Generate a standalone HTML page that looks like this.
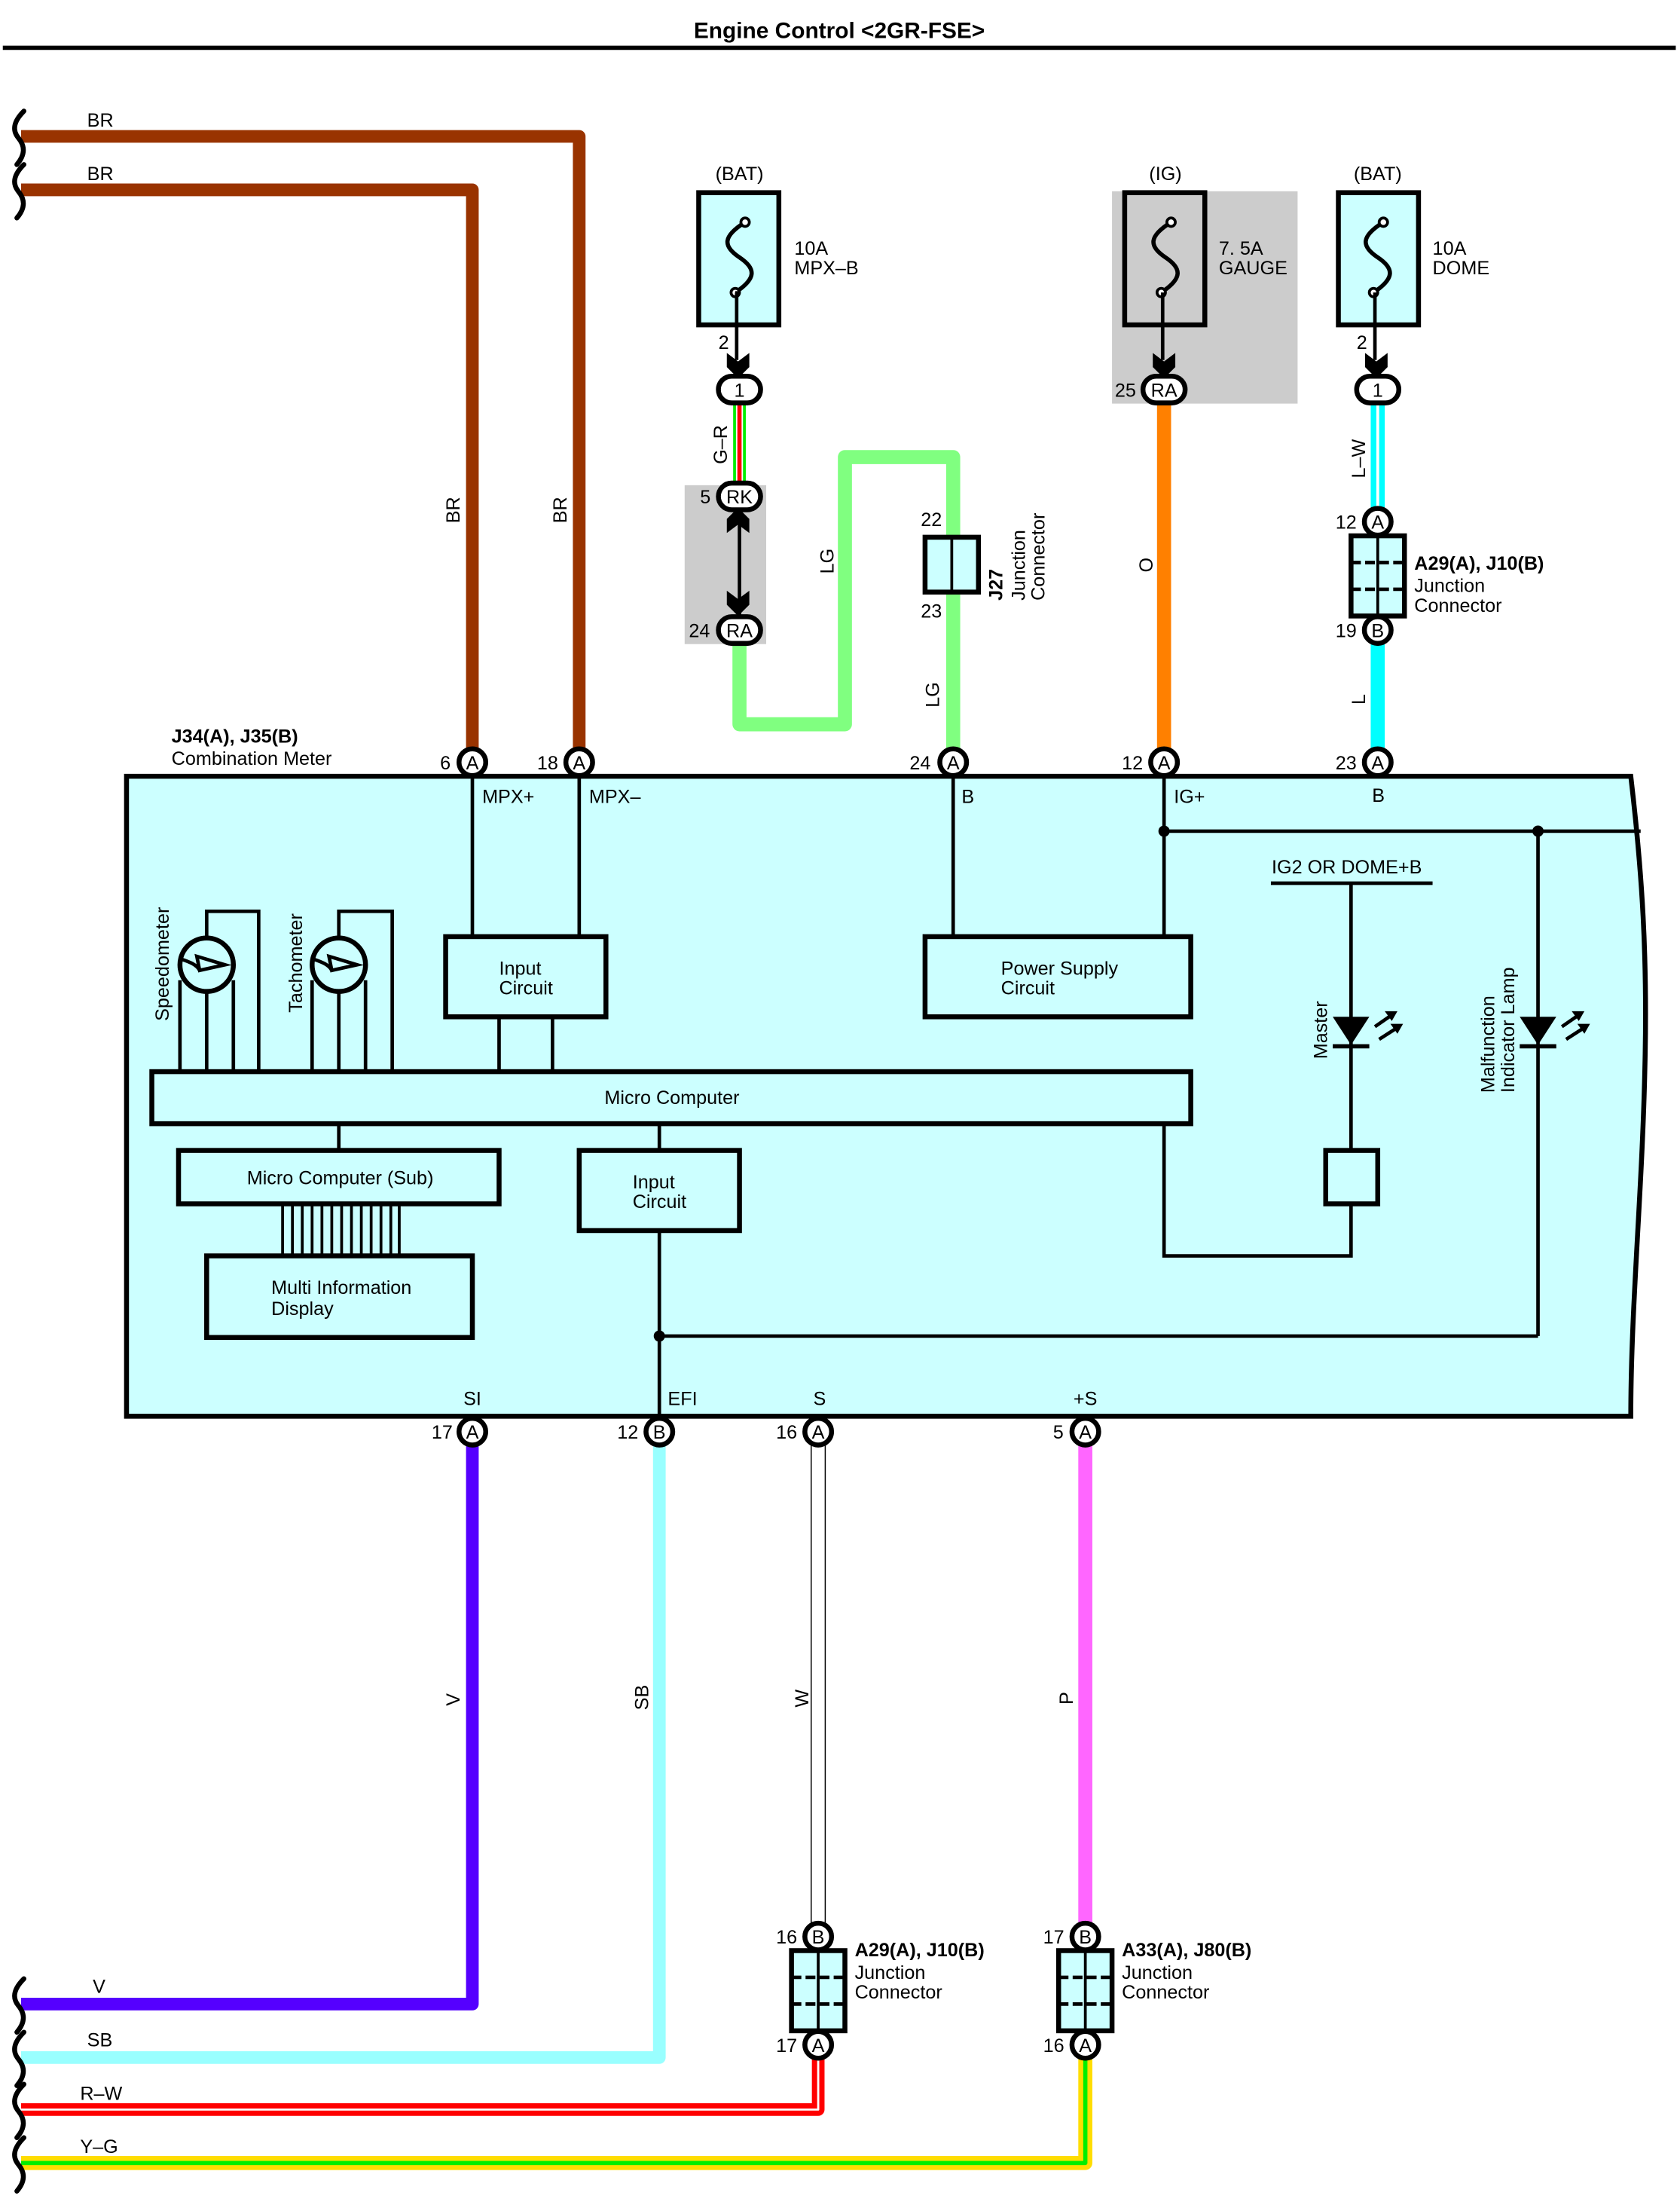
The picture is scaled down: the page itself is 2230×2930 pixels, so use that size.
<!DOCTYPE html>
<html><head><meta charset="utf-8"><style>
html,body{margin:0;padding:0;background:#fff;}
svg{display:block;}
text{font-family:"Liberation Sans",sans-serif;font-size:13.5px;fill:#000;}
.b{font-weight:bold;}
</style></head><body>
<svg width="2230" height="2930" viewBox="0 0 1195 1570" preserveAspectRatio="none" xmlns="http://www.w3.org/2000/svg">
<defs>
<g id="pin"><circle cx="0" cy="0" r="9.5" fill="#fff" stroke="#000" stroke-width="3.5"/></g>
<g id="ovl"><rect x="-15" y="-9.5" width="30" height="19" rx="9.5" fill="#fff" stroke="#000" stroke-width="3.5"/></g>
<g id="fuse"><path d="M4,-25 C-12,-15 -12,-8 0,0 C12,8 12,15 -3,25" fill="none" stroke="#000" stroke-width="3"/><circle cx="4" cy="-25" r="3" fill="#fff" stroke="#000" stroke-width="2"/><circle cx="-3" cy="25" r="3" fill="#fff" stroke="#000" stroke-width="2"/></g>
<g id="arrd"><path d="M-8,-10 L0,-4 L8,-10 L8,0 L0,8 L-8,0 Z" fill="#000"/></g>
<g id="led"><polygon points="-13,-10 13,-10 0,10" fill="#000"/><line x1="-13" y1="11" x2="13" y2="11" stroke="#000" stroke-width="3"/>
<line x1="17" y1="-3" x2="30" y2="-12" stroke="#000" stroke-width="2.5"/><polygon points="33,-14 24,-14 29,-7" fill="#000"/>
<line x1="20" y1="6" x2="34" y2="-3" stroke="#000" stroke-width="2.5"/><polygon points="37,-5 28,-5 33,2" fill="#000"/></g>
<g id="jc"><rect x="-19" y="0" width="38" height="57" fill="#ccffff" stroke="#000" stroke-width="3.5"/><line x1="0" y1="0" x2="0" y2="57" stroke="#000" stroke-width="2"/><line x1="-19" y1="19" x2="19" y2="19" stroke="#000" stroke-width="2.5" stroke-dasharray="7 3"/><line x1="-19" y1="38" x2="19" y2="38" stroke="#000" stroke-width="2.5" stroke-dasharray="7 3"/></g>
<g id="sq"><path d="M17,-18 C9,-10 9,-4 13,1 C18,7 18,13 12,20" fill="none" stroke="#000" stroke-width="3.5" stroke-linecap="round"/></g>
</defs>

<text x="597" y="27" text-anchor="middle" class="b" style="font-size:16px">Engine Control &lt;2GR-FSE&gt;</text>
<line x1="2" y1="34" x2="1192" y2="34" stroke="#000" stroke-width="3"/>

<!-- BR wires -->
<path d="M15,97 H412 V541" fill="none" stroke="#993300" stroke-width="9" stroke-linejoin="round"/>
<path d="M15,135 H336 V541" fill="none" stroke="#993300" stroke-width="9" stroke-linejoin="round"/>
<use href="#sq" x="0" y="97"/><use href="#sq" x="0" y="135"/>
<text x="62" y="90">BR</text><text x="62" y="128">BR</text>
<text transform="translate(327,372) rotate(-90)">BR</text>
<text transform="translate(403,372) rotate(-90)">BR</text>

<!-- MPX-B fuse -->
<text x="526" y="128" text-anchor="middle">(BAT)</text>
<rect x="497" y="137" width="57" height="94" fill="#ccffff" stroke="#000" stroke-width="3.5"/>
<use href="#fuse" x="526" y="183"/>
<text x="565" y="181">10A</text><text x="565" y="195">MPX–B</text>
<line x1="523" y1="208" x2="526" y2="208" stroke="#000" stroke-width="2"/>
<line x1="524" y1="208" x2="524" y2="256" stroke="#000" stroke-width="2.5"/>
<use href="#arrd" x="525" y="261"/>
<text x="511" y="248">2</text>
<line x1="526" y1="286" x2="526" y2="345" stroke="#00ee00" stroke-width="9"/>
<line x1="526" y1="286" x2="526" y2="345" stroke="#fff" stroke-width="5"/>
<line x1="526" y1="286" x2="526" y2="345" stroke="#ff0000" stroke-width="3"/>
<use href="#ovl" x="526" y="277"/><text x="526" y="282" text-anchor="middle">1</text>
<text transform="translate(517,330) rotate(-90)">G–R</text>
<rect x="487" y="345" width="58" height="113" fill="#cccccc"/>
<line x1="526" y1="362" x2="526" y2="438" stroke="#000" stroke-width="2.5"/>
<g transform="translate(525,369) rotate(180)"><use href="#arrd"/></g>
<use href="#arrd" x="525" y="430"/>
<!-- LG wire -->
<path d="M526,456 V515 H601 V325 H678 V541" fill="none" stroke="#80ff80" stroke-width="10" stroke-linejoin="round"/>
<use href="#ovl" x="526" y="353"/><text x="526" y="358" text-anchor="middle">RK</text><text x="498" y="358">5</text>
<use href="#ovl" x="526" y="448"/><text x="526" y="453" text-anchor="middle">RA</text><text x="490" y="453">24</text>
<text transform="translate(593,408) rotate(-90)">LG</text>
<text transform="translate(668,503) rotate(-90)">LG</text>
<rect x="658" y="382" width="38" height="39" fill="#ccffff" stroke="#000" stroke-width="3.5"/>
<line x1="677" y1="382" x2="677" y2="421" stroke="#000" stroke-width="2"/>
<text x="655" y="374">22</text><text x="655" y="439">23</text>
<text transform="translate(713,427) rotate(-90)" class="b">J27</text>
<text transform="translate(729,427) rotate(-90)">Junction</text>
<text transform="translate(743,427) rotate(-90)">Connector</text>

<!-- GAUGE fuse -->
<text x="829" y="128" text-anchor="middle">(IG)</text>
<rect x="791" y="136" width="132" height="151" fill="#cccccc"/>
<rect x="800" y="137" width="57" height="94" fill="#cccccc" stroke="#000" stroke-width="3.5"/>
<use href="#fuse" x="829" y="183"/>
<text x="867" y="181">7. 5A</text><text x="867" y="195">GAUGE</text>
<line x1="827" y1="208" x2="827" y2="256" stroke="#000" stroke-width="2.5"/>
<use href="#arrd" x="828" y="261"/>
<line x1="828" y1="287" x2="828" y2="541" stroke="#ff8000" stroke-width="10"/>
<use href="#ovl" x="828" y="277"/><text x="828" y="282" text-anchor="middle">RA</text><text x="793" y="282">25</text>
<text transform="translate(820,407) rotate(-90)">O</text>

<!-- DOME fuse -->
<text x="980" y="128" text-anchor="middle">(BAT)</text>
<rect x="952" y="137" width="57" height="94" fill="#ccffff" stroke="#000" stroke-width="3.5"/>
<use href="#fuse" x="980" y="183"/>
<text x="1019" y="181">10A</text><text x="1019" y="195">DOME</text>
<line x1="978" y1="208" x2="978" y2="256" stroke="#000" stroke-width="2.5"/>
<use href="#arrd" x="979" y="261"/>
<text x="965" y="248">2</text>
<line x1="980" y1="287" x2="980" y2="362" stroke="#00ffff" stroke-width="10"/>
<line x1="980" y1="287" x2="980" y2="362" stroke="#fff" stroke-width="2"/>
<use href="#ovl" x="980" y="277"/><text x="980" y="282" text-anchor="middle">1</text>
<text transform="translate(971,340) rotate(-90)">L–W</text>
<line x1="980" y1="455" x2="980" y2="541" stroke="#00ffff" stroke-width="10"/>
<text transform="translate(971,501) rotate(-90)">L</text>
<use href="#jc" x="980" y="381"/>
<use href="#pin" x="980" y="371"/><text x="980" y="376" text-anchor="middle">A</text><text x="950" y="376">12</text>
<use href="#pin" x="980" y="448"/><text x="980" y="453" text-anchor="middle">B</text><text x="950" y="453">19</text>
<text x="1006" y="405" class="b">A29(A), J10(B)</text>
<text x="1006" y="421">Junction</text><text x="1006" y="435">Connector</text>

<!-- main box -->
<text x="122" y="528" class="b">J34(A), J35(B)</text>
<text x="122" y="544">Combination Meter</text>
<path d="M90,552 H1160 C1168,620 1172,680 1170,760 C1168,850 1160,930 1160,1007 H90 Z" fill="#ccffff" stroke="#000" stroke-width="3.5"/>
<g fill="none" stroke="#000" stroke-width="2.5">
<line x1="336" y1="552" x2="336" y2="666"/><line x1="412" y1="552" x2="412" y2="666"/>
<line x1="355" y1="723" x2="355" y2="762"/><line x1="393" y1="723" x2="393" y2="762"/>
<line x1="678" y1="552" x2="678" y2="666"/><line x1="828" y1="552" x2="828" y2="666"/>
<line x1="828" y1="591" x2="1167" y2="591"/>
<line x1="904" y1="628" x2="1019" y2="628"/>
<line x1="961" y1="628" x2="961" y2="818"/>
<path d="M961,856 V893 H828 V799"/>
<line x1="1094" y1="591" x2="1094" y2="950"/>
<path d="M469,875 V1007"/><path d="M469,950 H1094"/>
<line x1="241" y1="799" x2="241" y2="818"/><line x1="469" y1="799" x2="469" y2="818"/>
<!-- gauges -->
<path d="M147,667 V648 H184 V762"/>
<path d="M128,697 L128,762 M147,705 V762 M166,697 V762"/>
<path d="M241,667 V648 H279 V762"/>
<path d="M222,697 L222,762 M241,705 V762 M260,697 V762"/>
</g>
<circle cx="828" cy="591" r="4" fill="#000"/><circle cx="1094" cy="591" r="4" fill="#000"/><circle cx="469" cy="950" r="4" fill="#000"/>
<g fill="#ccffff" stroke="#000" stroke-width="3.5">
<circle cx="147" cy="686" r="19"/><circle cx="241" cy="686" r="19"/>
</g>
<g fill="none" stroke="#000" stroke-width="2.5">
<path d="M129,682 C135,684 140,686 142,690 M142,690 L160,686 L140,680 Z"/>
<path d="M223,682 C229,684 234,686 236,690 M236,690 L254,686 L234,680 Z"/>
</g>
<text transform="translate(120,726) rotate(-90)">Speedometer</text>
<text transform="translate(215,720) rotate(-90)">Tachometer</text>
<g fill="none" stroke="#000" stroke-width="3.5">
<rect x="317" y="666" width="114" height="57"/>
<rect x="658" y="666" width="189" height="57"/>
<rect x="108" y="762" width="739" height="37"/>
<rect x="127" y="818" width="228" height="38"/>
<rect x="147" y="893" width="189" height="58"/>
<rect x="412" y="818" width="114" height="57"/>
<rect x="943" y="818" width="37" height="38"/>
</g>
<g stroke="#000" stroke-width="2">
<line x1="201" y1="856" x2="201" y2="893"/><line x1="208" y1="856" x2="208" y2="893"/><line x1="215" y1="856" x2="215" y2="893"/><line x1="222" y1="856" x2="222" y2="893"/><line x1="229" y1="856" x2="229" y2="893"/><line x1="236" y1="856" x2="236" y2="893"/><line x1="243" y1="856" x2="243" y2="893"/><line x1="250" y1="856" x2="250" y2="893"/><line x1="257" y1="856" x2="257" y2="893"/><line x1="264" y1="856" x2="264" y2="893"/><line x1="271" y1="856" x2="271" y2="893"/><line x1="278" y1="856" x2="278" y2="893"/><line x1="284" y1="856" x2="284" y2="893"/>
</g>
<use href="#led" x="961" y="733"/><use href="#led" x="1094" y="733"/>
<text x="355" y="693">Input</text><text x="355" y="707">Circuit</text>
<text x="712" y="693">Power Supply</text><text x="712" y="707">Circuit</text>
<text x="478" y="785" text-anchor="middle">Micro Computer</text>
<text x="242" y="842" text-anchor="middle">Micro Computer (Sub)</text>
<text x="193" y="920">Multi Information</text><text x="193" y="935">Display</text>
<text x="450" y="845">Input</text><text x="450" y="859">Circuit</text>
<text x="958" y="621" text-anchor="middle">IG2 OR DOME+B</text>
<text transform="translate(944,753) rotate(-90)">Master</text>
<text transform="translate(1063,777) rotate(-90)">Malfunction</text>
<text transform="translate(1077,777) rotate(-90)">Indicator Lamp</text>
<text x="343" y="571">MPX+</text><text x="419" y="571">MPX–</text>
<text x="684" y="571">B</text><text x="835" y="571">IG+</text><text x="976" y="570">B</text>
<text x="336" y="999" text-anchor="middle">SI</text><text x="475" y="999">EFI</text>
<text x="583" y="999" text-anchor="middle">S</text><text x="772" y="999" text-anchor="middle">+S</text>

<!-- top pins -->
<use href="#pin" x="336" y="542"/><text x="336" y="547" text-anchor="middle">A</text><text x="313" y="547">6</text>
<use href="#pin" x="412" y="542"/><text x="412" y="547" text-anchor="middle">A</text><text x="382" y="547">18</text>
<use href="#pin" x="678" y="542"/><text x="678" y="547" text-anchor="middle">A</text><text x="647" y="547">24</text>
<use href="#pin" x="828" y="542"/><text x="828" y="547" text-anchor="middle">A</text><text x="798" y="547">12</text>
<use href="#pin" x="980" y="542"/><text x="980" y="547" text-anchor="middle">A</text><text x="950" y="547">23</text>

<!-- bottom wires -->
<path d="M336,1027 V1425 H15" fill="none" stroke="#5500ff" stroke-width="9" stroke-linejoin="round"/>
<path d="M469,1027 V1463 H15" fill="none" stroke="#99ffff" stroke-width="9" stroke-linejoin="round"/>
<line x1="577" y1="1027" x2="577" y2="1369" stroke="#000" stroke-width="0.8"/>
<line x1="587" y1="1027" x2="587" y2="1369" stroke="#000" stroke-width="0.8"/>
<line x1="772" y1="1027" x2="772" y2="1369" stroke="#ff66ff" stroke-width="10"/>
<path d="M582,1462 V1500 H15" fill="none" stroke="#ff0000" stroke-width="9" stroke-linejoin="round"/>
<path d="M582,1462 V1500 H15" fill="none" stroke="#fff" stroke-width="1.5" stroke-linejoin="round"/>
<path d="M772,1462 V1538 H15" fill="none" stroke="#ffdd00" stroke-width="10" stroke-linejoin="round"/>
<path d="M772,1462 V1538 H15" fill="none" stroke="#00ee00" stroke-width="3" stroke-linejoin="round"/>
<use href="#sq" x="0" y="1425"/><use href="#sq" x="0" y="1463"/><use href="#sq" x="0" y="1500"/><use href="#sq" x="0" y="1538"/>
<text x="66" y="1417">V</text><text x="62" y="1455">SB</text><text x="57" y="1493">R–W</text><text x="57" y="1531">Y–G</text>
<text transform="translate(327,1213) rotate(-90)">V</text>
<text transform="translate(461,1216) rotate(-90)">SB</text>
<text transform="translate(575,1214) rotate(-90)">W</text>
<text transform="translate(763,1212) rotate(-90)">P</text>
<use href="#pin" x="336" y="1018"/><text x="336" y="1023" text-anchor="middle">A</text><text x="307" y="1023">17</text>
<use href="#pin" x="469" y="1018"/><text x="469" y="1023" text-anchor="middle">B</text><text x="439" y="1023">12</text>
<use href="#pin" x="582" y="1018"/><text x="582" y="1023" text-anchor="middle">A</text><text x="552" y="1023">16</text>
<use href="#pin" x="772" y="1018"/><text x="772" y="1023" text-anchor="middle">A</text><text x="749" y="1023">5</text>

<!-- bottom junctions -->
<use href="#jc" x="582" y="1387"/>
<use href="#pin" x="582" y="1377"/><text x="582" y="1382" text-anchor="middle">B</text><text x="552" y="1382">16</text>
<use href="#pin" x="582" y="1454"/><text x="582" y="1459" text-anchor="middle">A</text><text x="552" y="1459">17</text>
<text x="608" y="1391" class="b">A29(A), J10(B)</text><text x="608" y="1407">Junction</text><text x="608" y="1421">Connector</text>
<use href="#jc" x="772" y="1387"/>
<use href="#pin" x="772" y="1377"/><text x="772" y="1382" text-anchor="middle">B</text><text x="742" y="1382">17</text>
<use href="#pin" x="772" y="1454"/><text x="772" y="1459" text-anchor="middle">A</text><text x="742" y="1459">16</text>
<text x="798" y="1391" class="b">A33(A), J80(B)</text><text x="798" y="1407">Junction</text><text x="798" y="1421">Connector</text>
</svg>
</body></html>
